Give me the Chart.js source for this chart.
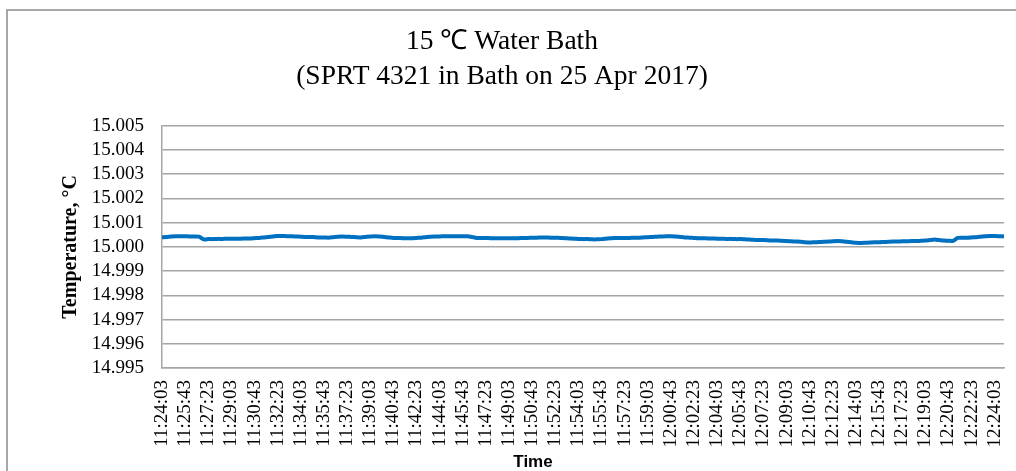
<!DOCTYPE html>
<html>
<head>
<meta charset="utf-8">
<script src="https://cdn.jsdelivr.net/npm/chart.js@4"></script>
<style>
  html, body { margin: 0; padding: 0; background: #ffffff; }
  #wrap { width: 1016px; height: 471px; }
</style>
</head>
<body>
<div id="wrap"><canvas id="bathChart" width="1016" height="471"></canvas></div>
<script>
/* --------------- Readings (every 20 s, from 11:24:03) --------------------- */
const startTime = [11, 24, 3];
const stepSeconds = 20;
const labelEvery = 5;

const temperatures = [
  15.00040, 15.00041, 15.00043, 15.00044, 15.00044, 15.00044, 15.00043, 15.00043, 15.00042, 15.00031,
  15.00032, 15.00032, 15.00033, 15.00033, 15.00034, 15.00034, 15.00034, 15.00034, 15.00035, 15.00035,
  15.00036, 15.00037, 15.00039, 15.00041, 15.00043, 15.00045, 15.00045, 15.00044, 15.00044, 15.00043,
  15.00042, 15.00041, 15.00041, 15.00040, 15.00039, 15.00039, 15.00038, 15.00040, 15.00042, 15.00043,
  15.00042, 15.00041, 15.00040, 15.00039, 15.00041, 15.00043, 15.00044, 15.00043, 15.00041, 15.00039,
  15.00037, 15.00037, 15.00036, 15.00036, 15.00036, 15.00037, 15.00038, 15.00040, 15.00042, 15.00043,
  15.00043, 15.00044, 15.00044, 15.00044, 15.00044, 15.00044, 15.00044, 15.00041, 15.00037, 15.00037,
  15.00037, 15.00036, 15.00036, 15.00036, 15.00036, 15.00036, 15.00036, 15.00036, 15.00037, 15.00037,
  15.00038, 15.00038, 15.00039, 15.00039, 15.00038, 15.00038, 15.00037, 15.00036, 15.00035, 15.00034,
  15.00033, 15.00032, 15.00032, 15.00031, 15.00031, 15.00032, 15.00034, 15.00036, 15.00037, 15.00037,
  15.00037, 15.00037, 15.00038, 15.00038, 15.00039, 15.00040, 15.00041, 15.00042, 15.00043, 15.00044,
  15.00044, 15.00043, 15.00041, 15.00039, 15.00038, 15.00037, 15.00036, 15.00036, 15.00035, 15.00035,
  15.00034, 15.00034, 15.00033, 15.00033, 15.00032, 15.00032, 15.00031, 15.00030, 15.00029, 15.00028,
  15.00028, 15.00027, 15.00026, 15.00026, 15.00025, 15.00024, 15.00023, 15.00022, 15.00021, 15.00019,
  15.00018, 15.00019, 15.00020, 15.00021, 15.00022, 15.00023, 15.00024, 15.00023, 15.00021, 15.00019,
  15.00017, 15.00016, 15.00017, 15.00018, 15.00019, 15.00019, 15.00020, 15.00021, 15.00022, 15.00022,
  15.00023, 15.00023, 15.00024, 15.00024, 15.00025, 15.00026, 15.00028, 15.00030, 15.00028, 15.00026,
  15.00025, 15.00025, 15.00037, 15.00038, 15.00038, 15.00039, 15.00040, 15.00042, 15.00044, 15.00045,
  15.00045, 15.00044, 15.00043
];

/* --------------- Axis Settings --------------------- */
const yMin = 14.995;
const yMax = 15.005;
const yStep = 0.001;

const titleLines = ["15 \u2103 Water Bath", "(SPRT 4321 in Bath on 25 Apr 2017)"];
const yTitle = "Temperature, \u00B0C";
const xTitle = "Time";

/* --------------- Time Labels --------------------- */
const pad = (n) => String(n).padStart(2, "0");
const timeLabels = temperatures.map((_, i) => {
  let s = startTime[0] * 3600 + startTime[1] * 60 + startTime[2] + i * stepSeconds;
  return `${pad(Math.floor(s / 3600))}:${pad(Math.floor(s / 60) % 60)}:${pad(s % 60)}`;
});

/* --------------- Frame + "Time" label --------------------- */
const frame = {
  id: "frame",
  beforeDraw(chart) {
    const ctx = chart.ctx;
    ctx.save();
    ctx.fillStyle = "#ffffff";
    ctx.fillRect(0, 0, chart.width, chart.height);
    ctx.strokeStyle = "#8c8c8c";
    ctx.lineWidth = 1.5;
    ctx.strokeRect(7, 10, chart.width, chart.height);
    ctx.restore();
  },
  afterDraw(chart) {
    const ctx = chart.ctx;
    ctx.save();
    ctx.fillStyle = "#000000";
    ctx.font = "bold 17px 'Liberation Sans', Arial, sans-serif";
    ctx.textAlign = "center";
    ctx.textBaseline = "middle";
    ctx.fillText(xTitle, 533, 462);
    ctx.restore();
  },
};

const serif = "'Liberation Serif', 'Times New Roman', serif";

new Chart(document.getElementById("bathChart"), {
  type: "line",
  plugins: [frame],
  data: {
    labels: timeLabels,
    datasets: [
      {
        data: temperatures,
        borderColor: "#0070c0",
        borderWidth: 4,
        pointRadius: 0,
        tension: 0.2,
        fill: false,
      },
    ],
  },
  options: {
    responsive: false,
    animation: false,
    layout: { padding: { left: 0, right: 12, top: 0, bottom: 0 } },
    plugins: {
      legend: { display: false },
      tooltip: { enabled: false },
      title: {
        display: true,
        text: titleLines,
        color: "#000000",
        font: { family: serif, size: 27.5, weight: "normal", lineHeight: 1.25 },
        padding: { top: 25, bottom: 32 },
      },
    },
    scales: {
      x: {
        offset: false,
        grid: { display: false, drawTicks: false },
        border: { display: true, color: "#a6a6a6", width: 1.5 },
        ticks: {
          autoSkip: false,
          minRotation: 90,
          maxRotation: 90,
          padding: 12,
          color: "#000000",
          font: { family: serif, size: 19 },
          callback: function (value, index) {
            return index % labelEvery === 0 ? this.getLabelForValue(value) : null;
          },
        },
        afterFit: (scale) => {
          scale.height = 103;
          scale.paddingLeft = 0;
          scale.paddingRight = 0;
        },
      },
      y: {
        min: yMin,
        max: yMax,
        grid: { color: "#a6a6a6", lineWidth: 1.5, drawTicks: false },
        border: { display: true, color: "#a6a6a6", width: 1.5 },
        ticks: {
          stepSize: yStep,
          autoSkip: false,
          padding: 18,
          color: "#000000",
          font: { family: serif, size: 19 },
          callback: (v) => Number(v).toFixed(3),
        },
        title: {
          display: true,
          text: yTitle,
          color: "#000000",
          font: { family: serif, size: 20, weight: "bold" },
          padding: { top: 59, bottom: 0 },
        },
        afterFit: (scale) => { scale.width = 162; },
      },
    },
  },
});
</script>
</body>
</html>
